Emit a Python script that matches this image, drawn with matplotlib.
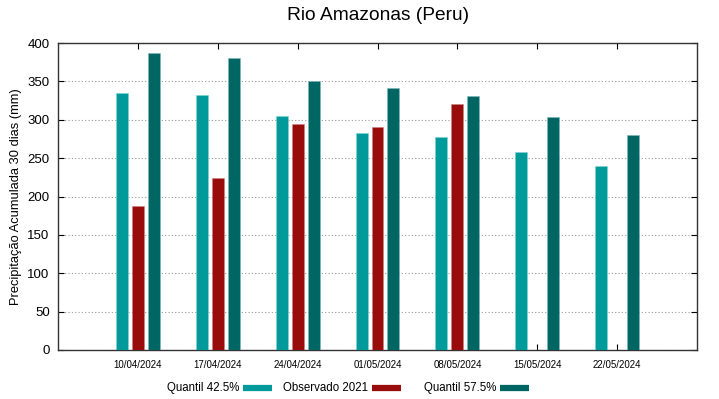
import numpy as np
import matplotlib
matplotlib.use("Agg")
import matplotlib.pyplot as plt
from matplotlib.lines import Line2D

plt.rcParams['font.family'] = ['Liberation Sans', 'DejaVu Sans']

# data
datas = ["10/04/2024", "17/04/2024", "24/04/2024", "01/05/2024",
         "08/05/2024", "15/05/2024", "22/05/2024"]
q425 = [335, 332, 305, 283, 277, 258, 240]
obs = [188, 224, 294, 290, 321, np.nan, np.nan]
q575 = [387, 380, 351, 342, 331, 304, 280]

c_q425 = "#009a9a"
c_obs = "#990c0c"
c_q575 = "#006664"

W, H = 719, 399
fig = plt.figure(figsize=(W / 100, H / 100), dpi=100)
ax = fig.add_axes([58 / W, 1 - 350 / H, 639 / W, 307 / H])

x = np.arange(1, len(datas) + 1)
w = 0.15
ax.bar(x - 0.2, q425, w, color=c_q425, edgecolor="#7fd4d4", linewidth=0.4, zorder=3)
ax.bar(x, obs, w, color=c_obs, edgecolor="#d08080", linewidth=0.4, zorder=3)
ax.bar(x + 0.2, q575, w, color=c_q575, edgecolor="#7fb8b8", linewidth=0.4, zorder=3)

ax.set_xlim(0, 8)
ax.set_ylim(0, 400)
ax.set_yticks(range(0, 401, 50))
ax.set_xticks(x)
ax.set_xticklabels(datas, fontsize=7)
ax.tick_params(axis='y', labelsize=9.5, direction='in', length=4, right=True, pad=6)
ax.tick_params(axis='x', direction='in', length=4, top=True, pad=7)
ax.grid(axis='y', linestyle=(0, (1, 2)), color="#999999", linewidth=0.8, zorder=0)
for s in ax.spines.values():
    s.set_color("#333333")
    s.set_linewidth(1.0)

ax.set_ylabel("Precipitação Acumulada 30 dias (mm)", fontsize=9.3, labelpad=4)
fig.text(378 / W, 1 - 16 / H, "Rio Amazonas (Peru)", fontsize=13.8,
         ha="center", va="center")

# legend drawn gnuplot-style: text then sample
labels = ["Quantil 42.5%", "Observado 2021", "Quantil 57.5%"]
cols = [c_q425, c_obs, c_q575]
text_x = [167, 283, 424]
samp_x = [243, 372, 500]
ly = 1 - 388 / H
for lab, c, tx, sx in zip(labels, cols, text_x, samp_x):
    fig.text(tx / W, ly, lab, fontsize=8.3, ha="left", va="center")
    fig.add_artist(Line2D([sx / W, (sx + 29) / W], [ly, ly], color=c,
                          linewidth=4.5, solid_capstyle="butt"))

fig.savefig("out.png", dpi=100)
